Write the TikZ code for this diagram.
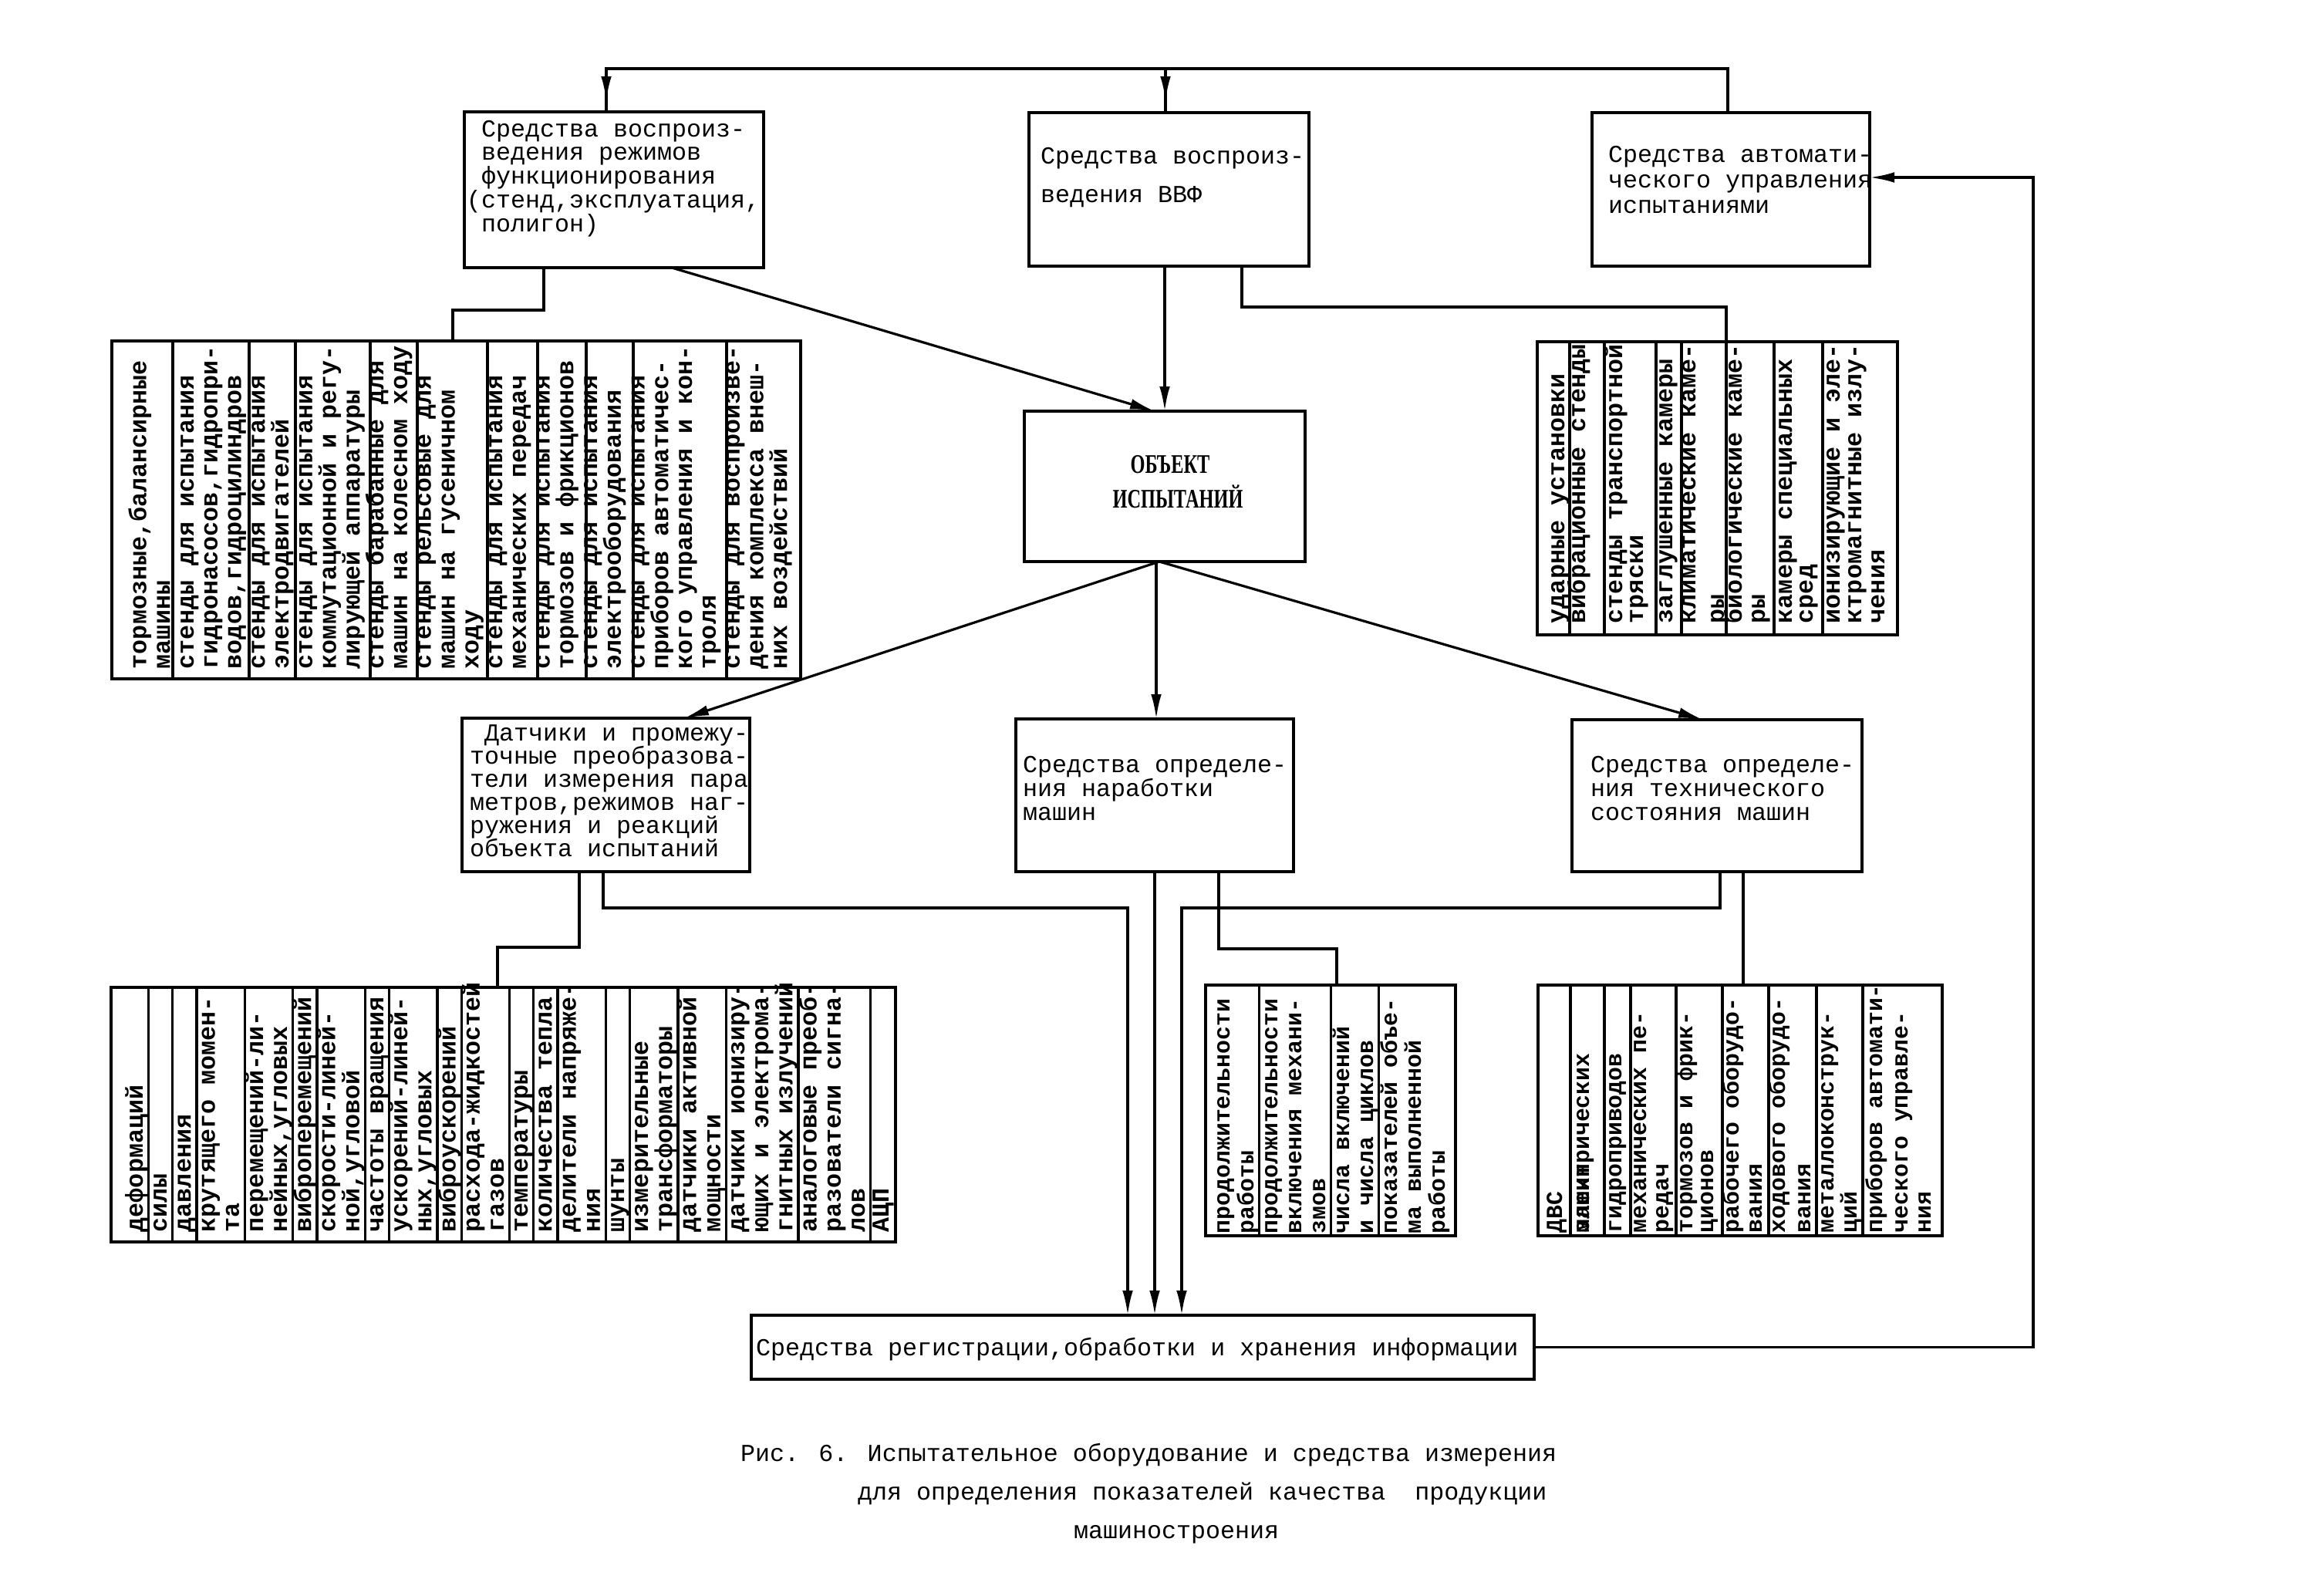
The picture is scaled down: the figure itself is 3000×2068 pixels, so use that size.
\documentclass[tikz,border=0pt]{standalone}
\usepackage{fontspec}
\newfontfamily\twfont[WordSpace={1,0,0}]{Liberation Mono}
\newfontfamily\objfont[FakeStretch=0.7]{Liberation Serif}
\usetikzlibrary{arrows.meta,calc}
\begin{document}
\begin{tikzpicture}[x=0.25pt,y=-0.25pt,
  bx/.style={draw, line width=1pt, inner sep=0pt, outer sep=0pt, anchor=north west},
  conn/.style={line width=0.8pt},
  arr/.style={line width=0.8pt, -{Latex[length=8pt,width=3.4pt]}},
  divl/.style={line width=0.8pt},
  twf/.style={font=\twfont\fontsize{7.92pt}{7.6pt}\selectfont, inner sep=0pt, outer sep=0pt},
  htext/.style={twf, anchor=base west},
  vtext/.style={twf, font=\twfont\bfseries\fontsize{7.92pt}{7.6pt}\selectfont, anchor=base west, rotate=90},
  vtextsm/.style={vtext, font=\twfont\bfseries\fontsize{7.45pt}{7.2pt}\selectfont},
  objt/.style={font=\objfont\bfseries\fontsize{8.7pt}{10pt}\selectfont, inner sep=0pt, anchor=base},
]
\fill[white] (0,0) rectangle (3000,2068);
\useasboundingbox (0,0) rectangle (3000,2068);

% ---------- boxes ----------
\node[bx, minimum width=97pt,    minimum height=50.5pt]  (A)  at (602,145) {};
\node[bx, minimum width=90.75pt, minimum height=49.75pt] (B)  at (1334,146) {};
\node[bx, minimum width=90pt,    minimum height=49.75pt] (C)  at (2064,146) {};
\node[bx, minimum width=91pt,    minimum height=48.75pt] (O)  at (1328,533) {};
\node[bx, minimum width=223.25pt,minimum height=109.5pt] (TL) at (145,442) {};
\node[bx, minimum width=116.75pt,minimum height=95pt]    (TR) at (1993,443) {};
\node[bx, minimum width=93.25pt, minimum height=49.75pt] (D)  at (599,931) {};
\node[bx, minimum width=90pt,    minimum height=49.5pt]  (N)  at (1317,932) {};
\node[bx, minimum width=94pt,    minimum height=49.25pt] (T)  at (2038,933) {};
\node[bx, minimum width=254.25pt,minimum height=82.5pt]  (BL) at (144,1280) {};
\node[bx, minimum width=81pt,    minimum height=81.25pt] (BM) at (1563,1277) {};
\node[bx, minimum width=131pt,   minimum height=81.25pt] (BR) at (1994,1277) {};
\node[bx, minimum width=253.75pt,minimum height=20.75pt] (R)  at (974,1705) {};

% ---------- horizontal texts ----------
\foreach \t [count=\i] in {Средства воспроиз-, ведения режимов, функционирования, {\llap{(}стенд,эксплуатация,}, полигон)}
  \node[htext] (ta\i) at (624,{177+30.75*(\i-1)}) {\t};
\foreach \t [count=\i] in {Средства воспроиз-, ведения ВВФ}
  \node[htext] (tb\i) at (1349,{212+50*(\i-1)}) {\t};
\foreach \t [count=\i] in {Средства автомати-, ческого управления, испытаниями}
  \node[htext] (tc\i) at (2085,{210+33*(\i-1)}) {\t};
\foreach \t [count=\i] in {\ Датчики и промежу-, точные преобразова-, тели измерения пара, {метров,режимов наг-}, ружения и реакций, объекта испытаний}
  \node[htext] (td\i) at (609,{960+30*(\i-1)}) {\t};
\foreach \t [count=\i] in {Средства определе-, ния наработки, машин}
  \node[htext] (tn\i) at (1326,{1001+31*(\i-1)}) {\t};
\foreach \t [count=\i] in {Средства определе-, ния технического, состояния машин}
  \node[htext] (tt\i) at (2062,{1001+31*(\i-1)}) {\t};
\node[htext] (tr) at (980,1757) {Средства регистрации,обработки и хранения информации};
\node[objt] (o1) at (1517,613) {ОБЪЕКТ};
\node[objt] (o2) at (1527,658) {ИСПЫТАНИЙ};

% ---------- vertical texts: top left ----------
\foreach \t [count=\i] in {{тормозные,балансирные}, машины, стенды для испытания, {гидронасосов,гидропри-}, {водов,гидроцилиндров},
  стенды для испытания, электродвигателей, стенды для испытания, коммутационной и регу-, лирующей аппаратуры,
  стенды барабанные для, машин на колесном ходу, стенды рельсовые для, машин на гусеничном, ходу,
  стенды для испытания, механических передач, стенды для испытания, тормозов и фрикционов,
  стенды для испытания, электрооборудования, стенды для испытания, приборов автоматичес-,
  кого управления и кон-, троля, стенды для воспроизве-, дения комплекса внеш-, них воздействий}
  \node[vtext] (vl\i) at ({189.5+30.77*(\i-1)},867) {\t};
\foreach \d in {224,323,383,480,541,632,697,760,821,942}
  \draw[divl] (\d,442) -- (\d,880);

% ---------- vertical texts: top right ----------
\foreach \t/\c [count=\i] in {ударные установки/2020, вибрационные стенды/2047, стенды транспортной/2095, тряски/2122,
  заглушенные камеры/2160, климатические каме-/2190, ры/2227, биологические каме-/2250, ры/2280,
  камеры специальных/2315, сред/2342, ионизирующие и эле-/2377, ктромагнитные излу-/2405, чения/2435}
  \node[vtext] (vr\i) at ({\c+8},808) {\t};
\foreach \d in {2035,2080,2147,2180,2238,2300,2363}
  \draw[divl] (\d,443) -- (\d,823);

% ---------- vertical texts: bottom left ----------
\foreach \t [count=\i] in {деформаций, силы, давления, крутящего момен-, та, перемещений-ли-, {нейных,угловых},
  виброперемещений, скорости-линей-, {ной,угловой}, частоты вращения, ускорений-линей-, {ных,угловых},
  виброускорений, расхода-жидкостей, газов, температуры, количества тепла, делители напряже-, ния,
  шунты, измерительные, трансформаторы, датчики активной, мощности, датчики ионизиру-,
  ющих и электрома-, гнитных излучений, аналоговые преоб-, разователи сигна-, лов, АЦП}
  \node[vtext] (vb\i) at ({185+31.2*(\i-1)},1597) {\t};
\foreach \k in {1,2,3,5,7,8,10,11,13,14,16,17,18,20,21,23,25,28,31}
  \draw[divl] ({192.6+31.2*(\k-1)},1280) -- ({192.6+31.2*(\k-1)},1610);

% ---------- vertical texts: bottom middle ----------
\foreach \t [count=\i] in {продолжительности, работы, продолжительности, включения механи-, змов,
  числа включений, и числа циклов, показателей объе-, ма выполненной, работы}
  \node[vtextsm] (vm\i) at ({1594+31*(\i-1)},1599) {\t};
\foreach \k in {2,5,7}
  \draw[divl] ({1601.5+31*(\k-1)},1277) -- ({1601.5+31*(\k-1)},1602);

% ---------- vertical texts: bottom right ----------
\foreach \t/\c [count=\i] in {ДВС/2017, электрических/2052, гидроприводов/2094, механических пе-/2126, редач/2155,
  тормозов и фрик-/2186, ционов/2213, рабочего оборудо-/2246, вания/2276, ходового оборудо-/2306, вания/2339,
  металлоконструк-/2369, ций/2399, приборов автомати-/2432, ческого управле-/2465, ния/2495}
  \node[vtextsm] (vq\i) at ({\c+8},1598) {\t};
\node[vtextsm] (vqx) at (2060,1598) {машин};
\foreach \d in {2036,2080,2114,2173,2233,2293,2355,2415}
  \draw[divl] (\d,1277) -- (\d,1602);

% ---------- caption ----------
\node[htext] (cap1) at (960,1894) {Рис. 6. Испытательное оборудование и средства измерения};
\node[htext] (cap2) at (1112,1944) {для определения показателей качества\ \ продукции};
\node[htext] (cap3) at (1392,1994) {машиностроения};

% ---------- connectors ----------
\coordinate (busL) at (786,89);
\coordinate (busM) at (1511,89);
\coordinate (busR) at (2240,89);
\draw[conn] (C.north -| busR) -- (busR) -- (busL) -- (A.north -| busL);
\draw[conn] (busM) -- (B.north -| busM);
\draw[arr] (busL) -- ++(0,42);
\draw[arr] (busM) -- ++(0,42);

\coordinate (fb) at (2636,230);
\draw[arr] (R.east) -| (fb) -- (C.east |- fb);

\draw[arr] (A.south -| 871,0) -- (O.north -| 1497,0);
\draw[arr] (B.south -| 1510,0) -- (O.north -| 1510,0);

\coordinate (j1) at (1610,398);
\coordinate (j2) at (2238,398);
\draw[conn] (B.south -| j1) -- (j1) -- (j2) -- (TR.north -| j2);
\coordinate (j3) at (705,402);
\coordinate (j4) at (587,402);
\draw[conn] (A.south -| j3) -- (j3) -- (j4) -- (TL.north -| j4);

\draw[arr] (O.south -| 1503,0) -- (D.north -| 887,0);
\draw[arr] (O.south -| 1499,0) -- (N.north -| 1499,0);
\draw[arr] (O.south -| 1503,0) -- (T.north -| 2208,0);

\coordinate (j5) at (751,1228);
\coordinate (j6) at (645,1228);
\draw[conn] (D.south -| j5) -- (j5) -- (j6) -- (BL.north -| j6);
\coordinate (j7) at (782,1177);
\coordinate (j8) at (1462,1177);
\draw[arr] (D.south -| j7) -- (j7) -- (j8) -- (R.north -| j8);
\draw[arr] (N.south -| 1497,0) -- (R.north -| 1497,0);
\coordinate (j9) at (1580,1230);
\coordinate (j10) at (1733,1230);
\draw[conn] (N.south -| j9) -- (j9) -- (j10) -- (BM.north -| j10);
\coordinate (j11) at (2230,1177);
\coordinate (j12) at (1532,1177);
\draw[arr] (T.south -| j11) -- (j11) -- (j12) -- (R.north -| j12);
\draw[conn] (T.south -| 2260,0) -- (BR.north -| 2260,0);
\end{tikzpicture}
\end{document}
